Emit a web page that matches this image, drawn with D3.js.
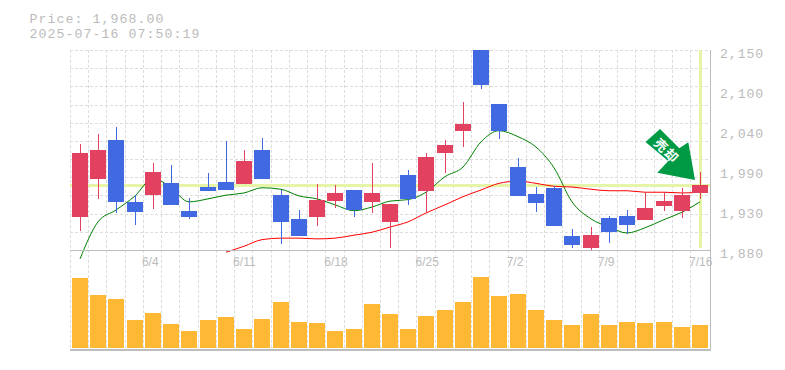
<!DOCTYPE html>
<html>
<head>
<meta charset="utf-8">
<script src="https://cdn.jsdelivr.net/npm/d3@7"></script>
<style>
  html, body { margin: 0; padding: 0; background: #fff; }
  svg { display: block; }
  text { font-family: "Liberation Mono", monospace; fill: #bbbbbb; }
</style>
</head>
<body>
<script>
const priceLabel = 'Price: 1,968.00'
const timeLabel = '2025-07-16 07:50:19'

// daily OHLC
const opens = [1925,1976,2029,1945,1954,1970,1933,1965,1972,1969,2015,1954,1922,1925,1946,1961,1945,1918,1981,1960,2011,2041,2165,2077,1992,1956,1964,1899,1883,1923,1926,1921,1939,1933,1957]
const closes = [2011,2015,1945,1931,1985,1941,1925,1960,1961,2000,1976,1918,1899,1948,1957,1934,1957,1942,1949,2006,2022,2050,2103,2041,1953,1943,1912,1887,1900,1904,1914,1937,1946,1954,1968]
const highs = [2023,2037,2046,1954,1997,1995,1950,1984,2027,2015,2031,1961,1934,1969,1968,1961,1997,1942,1988,2011,2029,2080,2170,2077,2004,1965,1966,1908,1911,1926,1934,1957,1958,1964,1985]
const lows = [1906,1949,1930,1914,1935,1941,1922,1960,1961,1969,1976,1888,1899,1912,1937,1925,1930,1883,1941,1931,1984,2019,2097,2030,1953,1931,1912,1883,1879,1889,1902,1921,1933,1923,1949]
const volumes = [700,530,490,280,350,240,170,280,310,190,290,460,260,250,170,190,440,340,190,320,380,460,710,520,540,380,280,230,340,230,260,250,260,210,230]

const maShort = [1868,1918,1934,1953,1977,1964,1945,1949,1954,1957,1964,1962,1953,1949,1941,1933,1938,1946,1948,1958,1979,1992,2026,2041,2033,2019,1991,1945,1922,1911,1903,1910,1921,1931,1945]
const maLong = [null,null,null,null,null,null,null,null,1877,1885,1894,1896,1896,1895,1896,1900,1904,1911,1918,1930,1941,1952,1961,1970,1973,1970,1966,1965,1962,1960,1960,1958,1958,1957,1958]

const yTicks = [1880,1934,1988,2042,2096,2150]
const yTickLabels = ['1,880','1,930','1,990','2,040','2,100','2,150']
const dateTicks = [4,9,14,19,24,29,34]
const dateLabels = ['6/4','6/11','6/18','6/25','7/2','7/9','7/16']
const hGridValues = [0,1,2,3,4,5,6,7,8,9,10,11]
const currentPrice = 1968
const lastIndex = 34

const W = 785, H = 370
const plotTop = 50, base = 250, volBase = 348, plotBottom = 350, plotLeft = 70, plotRight = 710
const UP = '#e2425f', DOWN = '#4169e1', VOL = '#ffb833', HILITE = '#e6f4a8'
const GRID = '#dddddd', AXIS = '#bdbdbd'

const idx = d3.range(opens.length)

const x = d3.scaleBand().domain(idx).range([72, 708]).paddingInner(1 - 16 / 18.235)
const barX = i => Math.round(x(i))
const y = d3.scaleLinear().domain([1880, 2150]).range([base, plotTop])
const yVol = d3.scaleLinear().domain([0, 1000]).range([volBase, volBase - 100])
const yGrid = d3.scaleLinear().domain([0, 11]).range([plotTop, base])

const svg = d3.select('body').append('svg').attr('width', W).attr('height', H)

svg.append('defs').append('clipPath').attr('id', 'plot')
  .append('rect').attr('x', plotLeft).attr('y', plotTop).attr('width', plotRight - plotLeft).attr('height', 210)

// grid
const grid = svg.append('g').attr('stroke', GRID).attr('stroke-dasharray', '3,2').attr('shape-rendering', 'crispEdges')
grid.selectAll('.v').data(idx).join('line').attr('class', 'v')
  .attr('x1', d => barX(d) - 2 + .5).attr('x2', d => barX(d) - 2 + .5)
  .attr('y1', plotTop).attr('y2', plotBottom)
grid.selectAll('.h').data(hGridValues).join('line').attr('class', 'h')
  .attr('x1', plotLeft).attr('x2', plotRight)
  .attr('y1', d => Math.round(yGrid(d)) + .5).attr('y2', d => Math.round(yGrid(d)) + .5)

// current price cross
svg.append('rect').attr('x', plotLeft).attr('width', plotRight - plotLeft)
  .attr('y', Math.round(y(currentPrice)) - 1).attr('height', 3).attr('fill', HILITE)
svg.append('rect').attr('x', barX(lastIndex) + 7).attr('width', 3)
  .attr('y', plotTop).attr('height', 198).attr('fill', HILITE)

// moving averages
const line = d3.line().defined(d => d != null).curve(d3.curveMonotoneX).x((d, i) => barX(i) + 8).y(d => y(d))
svg.append('path').datum(maShort).attr('d', line).attr('fill', 'none').attr('stroke', '#008000').attr('stroke-width', 1)
svg.append('path').datum(maLong).attr('d', line).attr('fill', 'none').attr('stroke', '#ff0000').attr('stroke-width', 1)

// candles
const candles = svg.append('g').attr('clip-path', 'url(#plot)').attr('shape-rendering', 'crispEdges')
candles.selectAll('.wick').data(idx).join('rect').attr('class', 'wick')
  .attr('x', d => barX(d) + 8).attr('width', 1)
  .attr('y', d => Math.round(y(highs[d])))
  .attr('height', d => Math.round(y(lows[d])) - Math.round(y(highs[d])))
  .attr('fill', d => closes[d] >= opens[d] ? UP : DOWN)
candles.selectAll('.body').data(idx).join('rect').attr('class', 'body')
  .attr('x', barX).attr('width', 16)
  .attr('y', d => Math.round(y(Math.max(opens[d], closes[d]))))
  .attr('height', d => Math.round(y(Math.min(opens[d], closes[d]))) - Math.round(y(Math.max(opens[d], closes[d]))))
  .attr('fill', d => closes[d] >= opens[d] ? UP : DOWN)

// volume
svg.append('g').attr('shape-rendering', 'crispEdges').selectAll('rect').data(idx).join('rect')
  .attr('x', barX).attr('width', 16)
  .attr('y', d => yVol(volumes[d]))
  .attr('height', d => volBase - yVol(volumes[d]))
  .attr('fill', VOL)

// frame
const frame = svg.append('g').attr('stroke', AXIS).attr('shape-rendering', 'crispEdges')
frame.append('line').attr('x1', plotLeft).attr('x2', plotRight + 1).attr('y1', base + .5).attr('y2', base + .5)
frame.append('line').attr('x1', plotLeft).attr('x2', plotRight + 1).attr('y1', plotBottom - .5).attr('y2', plotBottom - .5).attr('stroke-width', 2)
frame.append('line').attr('x1', plotRight + .5).attr('x2', plotRight + .5).attr('y1', plotTop).attr('y2', plotBottom + 1)

// axes, text only
const yAxis = d3.axisRight(y).tickValues(yTicks).tickSize(0).tickPadding(0)
  .tickFormat((d, i) => yTickLabels[i])
svg.append('g').attr('transform', 'translate(720,0)').call(yAxis)
  .attr('font-family', null).attr('fill', null)
  .call(g => g.select('.domain').remove())
  .selectAll('text').attr('font-size', 13.2).attr('letter-spacing', .9).attr('dy', 7).attr('fill', null)

const xAxis = d3.axisBottom(x).tickValues(dateTicks).tickSize(0).tickPadding(0)
  .tickFormat((d, i) => dateLabels[i])
svg.append('g').attr('transform', 'translate(0,257)').call(xAxis)
  .attr('font-family', null).attr('fill', null)
  .call(g => g.select('.domain').remove())
  .selectAll('text').attr('font-size', 12).attr('text-anchor', 'start').attr('x', -11).attr('dy', 9).attr('fill', null)
  .style('font-family', '"Liberation Sans"')

// title
svg.append('text').attr('x', 29.5).attr('y', 23).attr('font-size', 13.2).attr('letter-spacing', 1.08).text(priceLabel)
svg.append('text').attr('x', 29.5).attr('y', 38).attr('font-size', 13.2).attr('letter-spacing', 1.08).text(timeLabel)

// sell arrow
const arrowPoints = [[645.5,142],[660,129],[679.3,148.3],[688.3,142.3],[695,180],[657.3,172.7],[668.3,161]]
svg.append('polygon').attr('points', arrowPoints.join(' ')).attr('fill', '#009944')
svg.append('text').attr('transform', 'translate(666.5,151) rotate(45)')
  .attr('text-anchor', 'middle').attr('dy', 4.5).attr('font-size', 13).attr('font-weight', 'bold').attr('letter-spacing', 1.5)
  .style('font-family', '"Noto Sans CJK JP"').style('fill', '#fff').text('売却')
</script>
</body>
</html>
